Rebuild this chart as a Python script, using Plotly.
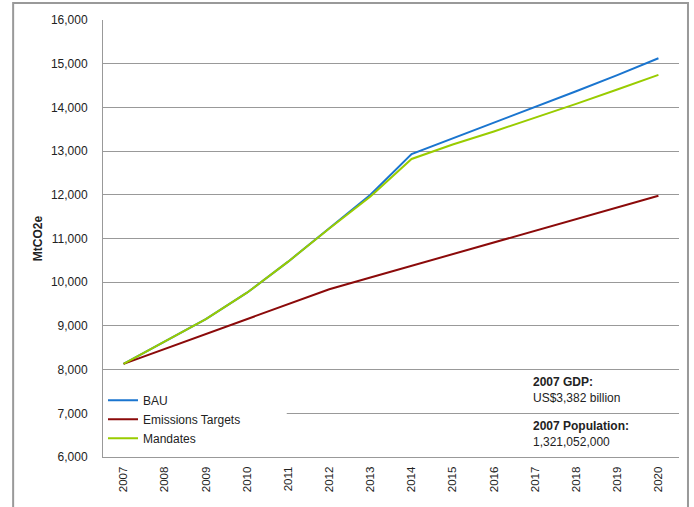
import plotly.graph_objects as go

years = [str(y) for y in range(2007, 2021)]
bau = [8130, 8640, 9155, 9760, 10470, 11235, 12000, 12930, 13290, 13640, 14000, 14370, 14740, 15125]
targets = [8130, 8475, 8815, 9155, 9495, 9840, 10107, 10375, 10642, 10910, 11177, 11445, 11712, 11980]
mandates = [8130, 8640, 9155, 9760, 10470, 11230, 11960, 12820, 13150, 13450, 13760, 14080, 14410, 14745]

series = [("BAU", bau, "#1a75cf"), ("Emissions Targets", targets, "#8b0a0a"), ("Mandates", mandates, "#99cc00")]

fig = go.Figure()
for name, vals, col in series:
    fig.add_trace(go.Scatter(x=years, y=vals, name=name, mode="lines",
                             line=dict(color=col, width=2)))

fig.update_layout(
    width=694, height=507,
    margin=dict(l=103, r=15, t=20, b=50),
    paper_bgcolor="white", plot_bgcolor="white",
    font=dict(family="Liberation Sans, Arial, sans-serif", size=12, color="#222"),
    showlegend=True,
    legend=dict(x=0.0, y=0.163, xanchor="left", yanchor="top", bgcolor="white",
                font=dict(size=12, color="#222"), tracegroupgap=0, itemwidth=30),
    xaxis=dict(type="category", range=[-0.5, 13.5], tickangle=-90, showgrid=False,
               showline=True, linecolor="#999", linewidth=1, ticks="", ticklabelstandoff=4,
               tickfont=dict(size=11.5)),
    yaxis=dict(range=[6000, 16000], dtick=1000, tickformat=",d", showgrid=True,
               gridcolor="#999", gridwidth=1, showline=True, linecolor="#999", linewidth=1,
               ticks="", ticklabelstandoff=12, zeroline=False,
               title=dict(text="<b>MtCO2e</b>", font=dict(size=12), standoff=5)),
    shapes=[
        dict(type="rect", xref="paper", yref="y", x0=0.003, x1=0.319, y0=6300, y1=7700,
             fillcolor="white", line=dict(width=0), layer="above"),
        dict(type="rect", xref="paper", yref="paper", x0=-0.156, x1=1.0156, y0=-0.3, y1=1.039,
             fillcolor="rgba(0,0,0,0)", line=dict(color="#999", width=2)),
    ],
    annotations=[
        dict(xref="paper", yref="paper", x=(531-103)/576, y=(457-373)/437, xanchor="left", yanchor="top",
             text="<b>2007 GDP:</b><br>US$3,382 billion", showarrow=False, align="left",
             font=dict(size=12, color="#222")),
        dict(xref="paper", yref="paper", x=(531-103)/576, y=(457-417)/437, xanchor="left", yanchor="top",
             text="<b>2007 Population:</b><br>1,321,052,000", showarrow=False, align="left",
             font=dict(size=12, color="#222")),
    ],
)

fig.write_html("out.html", config={"displayModeBar": False},
               post_script="document.body.style.margin='0';document.body.style.overflow='hidden';")
